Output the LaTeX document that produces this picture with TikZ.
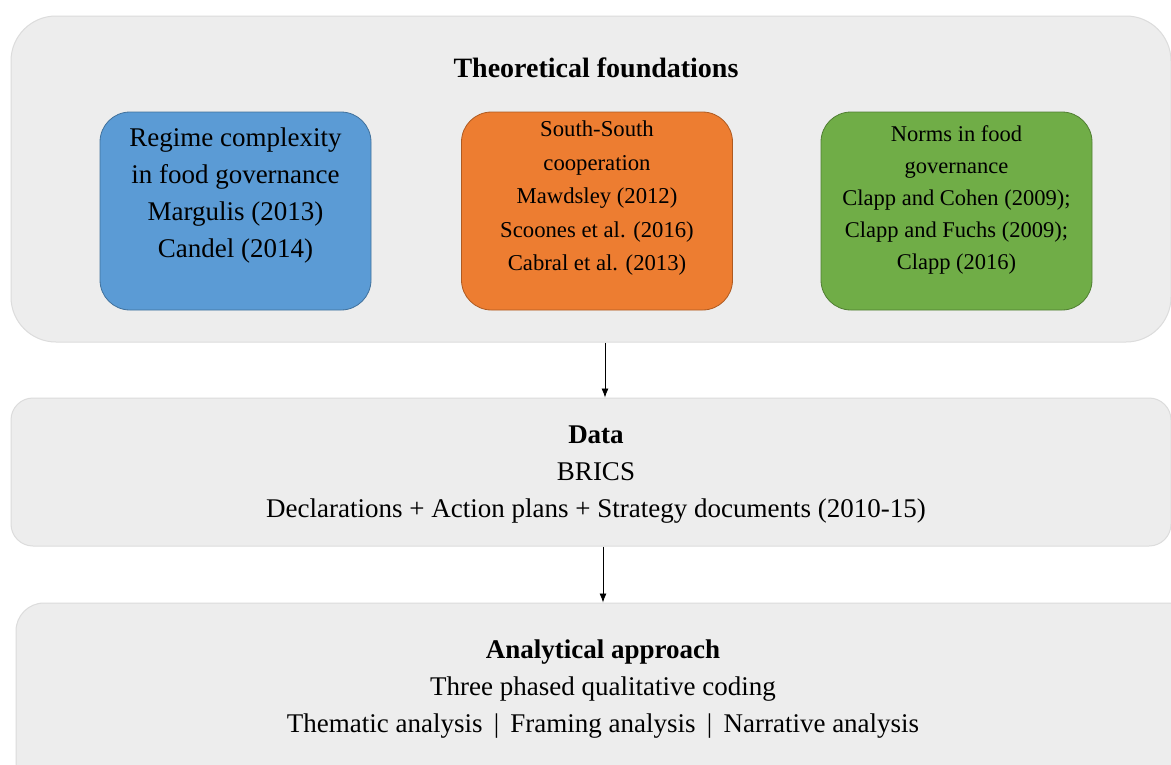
\documentclass[tikz,border=0pt]{standalone}
\usepackage{fontspec}
\setmainfont{Liberation Serif}
\usetikzlibrary{arrows.meta}
\definecolor{panelfill}{HTML}{EDEDED}
\definecolor{paneldraw}{HTML}{DCDCDC}
\definecolor{bluefill}{HTML}{5B9BD5}
\definecolor{bluedraw}{HTML}{41719C}
\definecolor{orangefill}{HTML}{ED7D31}
\definecolor{orangedraw}{HTML}{AE5A21}
\definecolor{greenfill}{HTML}{70AD47}
\definecolor{greendraw}{HTML}{507E32}
\tikzset{
  panel/.style={draw=paneldraw, fill=panelfill, line width=1pt, inner sep=0pt},
  themebox/.style={line width=0.8pt, rounded corners=30pt, minimum width=271pt, minimum height=198pt, inner sep=0pt},
  label/.style={align=center, inner sep=0pt, text=black},
  conn/.style={line width=0.8pt, -{Latex[length=9pt,width=7pt]}}
}
\begin{document}
\begin{tikzpicture}[x=1pt,y=-1pt]
\useasboundingbox (0,0) rectangle (1171,764);
\begin{scope}
\clip (0,0) rectangle (1171,764);
\fill[white] (0,0) rectangle (1171,764);
% panels
\node[panel, rounded corners=45pt, minimum width=1160pt, minimum height=326pt] (top) at (591,179) {};
\node[panel, rounded corners=22pt, minimum width=1160pt, minimum height=148pt] (data) at (591,472) {};
\node[panel, rounded corners=28pt, minimum width=1200pt, minimum height=220pt] (ana) at (616,713) {};
% title
\node[label, font=\fontsize{28}{32}\selectfont\bfseries] (tt) at (596,68) {Theoretical foundations};
% theme boxes
\node[themebox, draw=bluedraw, fill=bluefill] (blue) at (235.5,211) {};
\node[themebox, draw=orangedraw, fill=orangefill] (orange) at (597,211) {};
\node[themebox, draw=greendraw, fill=greenfill] (green) at (956.5,211) {};
\node[label, font=\fontsize{27}{37}\selectfont, anchor=north] (bluet) at (235.5,128) {Regime complexity\\in food governance\\Margulis (2013)\\Candel (2014)};
\node[label, font=\fontsize{22.7}{33.5}\selectfont, anchor=north] (oranget) at (597,121) {South-South\\cooperation\\Mawdsley (2012)\\Scoones et al. (2016)\\Cabral et al. (2013)};
\node[label, font=\fontsize{22.5}{32}\selectfont, anchor=north] (greent) at (956.5,125) {Norms in food\\governance\\Clapp and Cohen (2009);\\Clapp and Fuchs (2009);\\Clapp (2016)};
% data
\node[label, font=\fontsize{27}{37}\selectfont, anchor=north] (datat) at (596,426) {\textbf{Data}\\BRICS\\Declarations + Action plans + Strategy documents (2010-15)};
% analytical
\node[label, font=\fontsize{27}{37}\selectfont, anchor=north] (anat) at (603,640) {\textbf{Analytical approach}\\Three phased qualitative coding\\Thematic analysis \,|\, Framing analysis \,|\, Narrative analysis};
% connectors
\draw[conn] (top.south -| 605,0) -- (data.north -| 605,0);
\draw[conn] (data.south -| 603,0) -- (ana.north -| 603,0);
\end{scope}
\end{tikzpicture}
\end{document}
